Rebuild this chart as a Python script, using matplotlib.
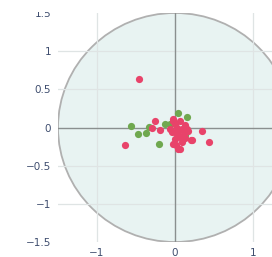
import matplotlib
matplotlib.use("Agg")
import matplotlib.pyplot as plt
from matplotlib.patches import Circle, Rectangle

RED = "#e8436a"
GREEN = "#6fa84f"
FILL = "#e8f3f2"
EDGE = "#b0b0b0"
GRID = "#dfe4e4"
ZERO = "#8a8f8f"
TICK = "#3e4d6e"

# red series
red_x = [-0.46, -0.64, 0.43, 0.22, 0.06, 0.01, 0.35, -0.26, -0.29, -0.19,
         -0.02, 0.06, 0.02, 0.09, 0.13, -0.04, 0.02, 0.11, 0.17, 0.06,
         0.13, 0.00, -0.06, 0.04, 0.00, -0.02, 0.04, 0.21, 0.09, 0.15,
         -0.02, 0.04]
red_y = [0.64, -0.23, -0.19, -0.16, -0.28, -0.23, -0.04, 0.08, 0.00, -0.03,
         0.09, 0.08, 0.00, -0.02, 0.03, -0.06, -0.08, -0.08, -0.04, -0.13,
         -0.14, -0.15, -0.02, -0.04, 0.05, -0.21, -0.28, -0.16, -0.19, -0.02,
         0.11, -0.10]

# green series
green_x = [-0.57, -0.47, -0.37, -0.21, -0.13, -0.07, 0.04, 0.15, 0.13, -0.33]
green_y = [0.02, -0.08, -0.07, -0.22, 0.05, 0.04, 0.19, 0.14, -0.10, 0.01]

ticks = [-1.5, -1, -0.5, 0, 0.5, 1, 1.5]
tick_labels = ["\u22121.5", "\u22121", "\u22120.5", "0", "0.5", "1", "1.5"]

fig = plt.figure(figsize=(2.72, 2.57), dpi=100)
# left edge at x=-1.5, right side runs past the figure edge
ax = fig.add_axes([58 / 272, 15 / 257, 234 / 272, 229 / 257])
ax.set_xlim(-1.5, 1.5)
ax.set_ylim(-1.5, 1.5)

ax.add_patch(Circle((0, 0), 1.5, facecolor=FILL, edgecolor=EDGE, lw=1.3, zorder=1))

for v in [-1, -0.5, 0.5, 1]:
    ax.axhline(v, color=GRID, lw=0.9, zorder=1.5)
for v in [-1, 1]:
    ax.axvline(v, color=GRID, lw=0.9, zorder=1.5)
ax.axhline(0, color=ZERO, lw=1.0, zorder=2)
ax.axvline(0, color=ZERO, lw=1.0, zorder=2)

ax.scatter(green_x, green_y, s=27, color=GREEN, linewidths=0, zorder=3)
ax.scatter(red_x, red_y, s=27, color=RED, linewidths=0, zorder=4)

for s in ax.spines.values():
    s.set_visible(False)
ax.set_yticks(ticks)
ax.set_yticklabels(tick_labels)
ax.set_xticks([-1, 0, 1])
ax.set_xticklabels(["\u22121", "0", "1"])
ax.tick_params(length=0, labelsize=7.5, colors=TICK, pad=5)
ax.tick_params(axis="x", pad=4)

# the top of the "1.5" label is cut off in the source image
fig.patches.append(Rectangle((0, 1 - 12 / 257), 57 / 272, 12 / 257,
                             transform=fig.transFigure, facecolor="white",
                             edgecolor="none", zorder=10))

fig.savefig("out.png", dpi=100)
